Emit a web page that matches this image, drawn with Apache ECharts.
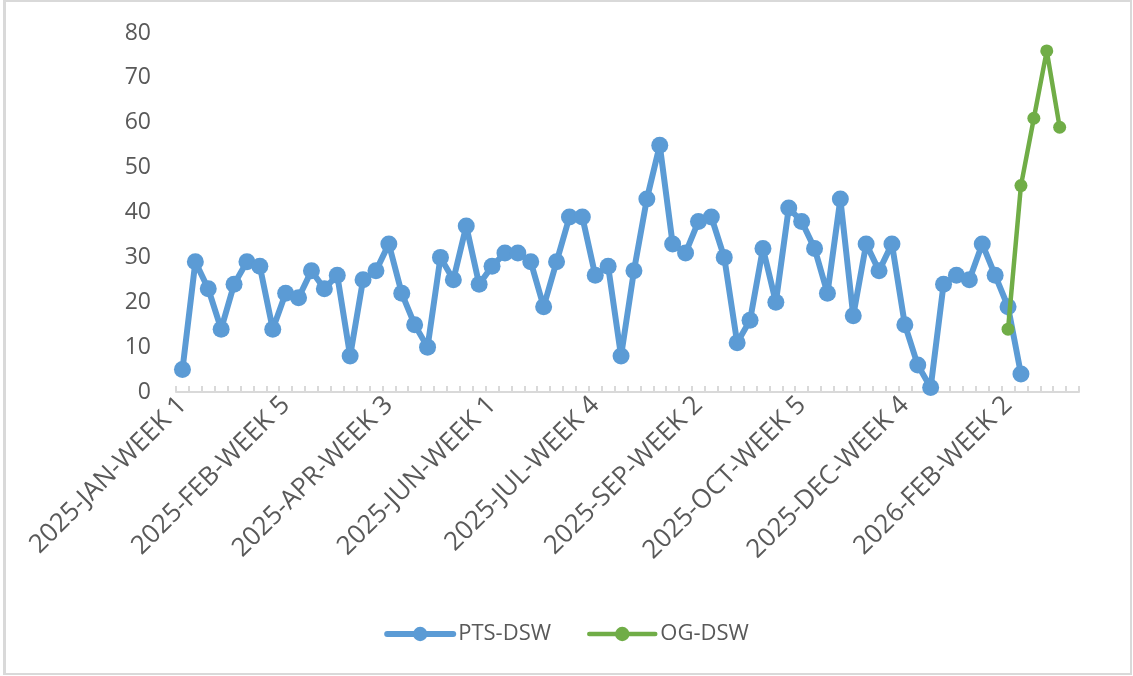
<!DOCTYPE html>
<html>
<head>
<meta charset="utf-8">
<script src="https://cdn.jsdelivr.net/npm/echarts@6/dist/echarts.min.js"></script>
<style>
  html, body { margin: 0; padding: 0; background: #ffffff; }
  #chart { position: absolute; left: 0; top: 0; width: 1133px; height: 676px; }
  #frame { position: absolute; left: 3px; top: 0px; width: 1129px; height: 675px; box-sizing: border-box; border: 2px solid #d9d9d9; border-left-width: 3px; pointer-events: none; }
</style>
</head>
<body>
<div id="chart"></div>
<div id="frame"></div>
<script>
const categories = [
  "2025-JAN-WEEK 1","2025-JAN-WEEK 2","2025-JAN-WEEK 3","2025-JAN-WEEK 4",
  "2025-FEB-WEEK 1","2025-FEB-WEEK 2","2025-FEB-WEEK 3","2025-FEB-WEEK 4","2025-FEB-WEEK 5",
  "2025-MAR-WEEK 1","2025-MAR-WEEK 2","2025-MAR-WEEK 3","2025-MAR-WEEK 4","2025-MAR-WEEK 5",
  "2025-APR-WEEK 1","2025-APR-WEEK 2","2025-APR-WEEK 3","2025-APR-WEEK 4","2025-APR-WEEK 5",
  "2025-MAY-WEEK 1","2025-MAY-WEEK 2","2025-MAY-WEEK 3","2025-MAY-WEEK 4","2025-MAY-WEEK 5",
  "2025-JUN-WEEK 1","2025-JUN-WEEK 2","2025-JUN-WEEK 3","2025-JUN-WEEK 4","2025-JUN-WEEK 5",
  "2025-JUL-WEEK 1","2025-JUL-WEEK 2","2025-JUL-WEEK 3","2025-JUL-WEEK 4","2025-JUL-WEEK 5",
  "2025-AUG-WEEK 1","2025-AUG-WEEK 2","2025-AUG-WEEK 3","2025-AUG-WEEK 4","2025-AUG-WEEK 5",
  "2025-SEP-WEEK 1","2025-SEP-WEEK 2","2025-SEP-WEEK 3","2025-SEP-WEEK 4","2025-SEP-WEEK 5",
  "2025-OCT-WEEK 1","2025-OCT-WEEK 2","2025-OCT-WEEK 3","2025-OCT-WEEK 4","2025-OCT-WEEK 5",
  "2025-NOV-WEEK 1","2025-NOV-WEEK 2","2025-NOV-WEEK 3","2025-NOV-WEEK 4",
  "2025-DEC-WEEK 1","2025-DEC-WEEK 2","2025-DEC-WEEK 3","2025-DEC-WEEK 4","2025-DEC-WEEK 5",
  "2026-JAN-WEEK 1","2026-JAN-WEEK 2","2026-JAN-WEEK 3","2026-JAN-WEEK 4","2026-JAN-WEEK 5",
  "2026-FEB-WEEK 1","2026-FEB-WEEK 2","2026-FEB-WEEK 3","2026-FEB-WEEK 4",
  "2026-MAR-WEEK 1","2026-MAR-WEEK 2","2026-MAR-WEEK 3"
];

const ptsDsw = [
  5, 29, 23, 14, 24, 29, 28, 14, 22, 21,
  27, 23, 26, 8, 25, 27, 33, 22, 15, 10,
  30, 25, 37, 24, 28, 31, 31, 29, 19, 29,
  39, 39, 26, 28, 8, 27, 43, 55, 33, 31,
  38, 39, 30, 11, 16, 32, 20, 41, 38, 32,
  22, 43, 17, 33, 27, 33, 15, 6, 1, 24,
  26, 25, 33, 26, 19, 4, null, null, null, null
];

const ogDsw = [
  null, null, null, null, null, null, null, null, null, null,
  null, null, null, null, null, null, null, null, null, null,
  null, null, null, null, null, null, null, null, null, null,
  null, null, null, null, null, null, null, null, null, null,
  null, null, null, null, null, null, null, null, null, null,
  null, null, null, null, null, null, null, null, null, null,
  null, null, null, null, 14, 46, 61, 76, 59, null
];

const seriesNames = ["PTS-DSW", "OG-DSW"];
const yTicks = { min: 0, max: 80, interval: 10 };

const FONT = "'Open Sans', 'Noto Sans', sans-serif";
const TEXT = "#595959";
const BLUE = "#5B9BD5";
const GREEN = "#70AD47";

const chart = echarts.init(document.getElementById('chart'), null, { renderer: 'canvas' });
chart.setOption({
  backgroundColor: '#ffffff',
  animation: false,
  textStyle: { fontFamily: FONT },
  grid: { left: 176, right: 54, top: 33, bottom: 284, containLabel: false },
  legend: {
    data: [
      { name: seriesNames[0], lineStyle: { width: 6 } },
      { name: seriesNames[1], lineStyle: { width: 4.5 } }
    ],
    left: 'center',
    top: 618,
    itemWidth: 66,
    itemHeight: 18,
    itemGap: 36,
    textStyle: { fontFamily: FONT, fontSize: 22, color: TEXT }
  },
  xAxis: {
    type: 'category',
    data: categories,
    boundaryGap: true,
    axisLine: { show: true, lineStyle: { color: '#d9d9d9', width: 2 } },
    axisTick: { show: true, inside: true, length: 6, interval: 0, lineStyle: { color: '#d9d9d9', width: 2 } },
    axisLabel: {
      interval: 7,
      rotate: 45,
      margin: 9,
      fontFamily: FONT,
      fontSize: 26,
      color: TEXT
    },
    splitLine: { show: false }
  },
  yAxis: {
    type: 'value',
    min: yTicks.min,
    max: yTicks.max,
    interval: yTicks.interval,
    axisLine: { show: false },
    axisTick: { show: false },
    splitLine: { show: false },
    axisLabel: { margin: 25, fontFamily: FONT, fontSize: 23, color: TEXT }
  },
  series: [
    {
      name: seriesNames[0],
      type: 'line',
      data: ptsDsw,
      symbol: 'circle',
      symbolSize: 17,
      showSymbol: true,
      showAllSymbol: true,
      connectNulls: false,
      itemStyle: { color: BLUE },
      lineStyle: { color: BLUE, width: 6, join: 'round', cap: 'round' },
      z: 2
    },
    {
      name: seriesNames[1],
      type: 'line',
      data: ogDsw,
      symbol: 'circle',
      symbolSize: 13,
      showSymbol: true,
      showAllSymbol: true,
      connectNulls: false,
      itemStyle: { color: GREEN },
      lineStyle: { color: GREEN, width: 4.5, join: 'round', cap: 'round' },
      z: 3
    }
  ]
});
</script>
</body>
</html>
